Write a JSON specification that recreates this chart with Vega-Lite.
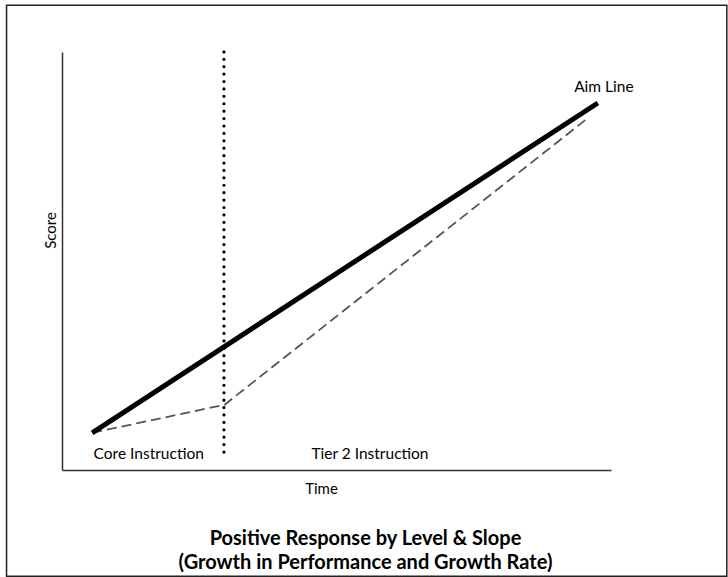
{
  "$schema": "https://vega.github.io/schema/vega-lite/v6.json",
  "autosize": {"type": "none"},
  "width": 549,
  "height": 418,
  "padding": {"left": 62, "top": 52, "right": 117, "bottom": 107},
  "background": "white",
  "config": {
    "view": {"stroke": null},
    "font": "Lato"
  },
  "title": {
    "text": ["Positive Response by Level & Slope", "(Growth in Performance and Growth Rate)"],
    "orient": "bottom",
    "anchor": "middle",
    "dx": 29,
    "offset": -48,
    "fontSize": 20,
    "lineHeight": 24.5,
    "fontWeight": "bold",
    "font": "Lato",
    "color": "black"
  },
  "datasets": {
    "aim": [
      {"time": 5.5, "score": 8.9, "series": "Aim Line"},
      {"time": 97.6, "score": 87.8, "series": "Aim Line"}
    ],
    "student": [
      {"time": 5.5, "score": 8.9, "series": "Student"},
      {"time": 29.6, "score": 15.6, "series": "Student"},
      {"time": 95.3, "score": 83.7, "series": "Student"}
    ],
    "phase": [
      {"time": 29.5, "from": 4.3, "to": 100.5}
    ],
    "labels": [
      {"time": 15.8, "score": 3.8, "label": "Core Instruction"},
      {"time": 56.1, "score": 3.8, "label": "Tier 2 Instruction"},
      {"time": 98.7, "score": 91.6, "label": "Aim Line"}
    ]
  },
  "layer": [
    {
      "data": {"values": [{}]},
      "mark": {"type": "rect", "fill": null, "stroke": "#222", "strokeWidth": 1.5},
      "encoding": {
        "x": {"datum": -10.1, "type": "quantitative", "scale": {"domain": [0, 100], "nice": false, "zero": false}},
        "x2": {"datum": 121.1},
        "y": {"datum": 111.2, "type": "quantitative", "scale": {"domain": [0, 100], "nice": false, "zero": false}},
        "y2": {"datum": -25.4}
      }
    },
    {
      "data": {"name": "phase"},
      "mark": {"type": "rule", "color": "black", "strokeWidth": 3.2, "strokeDash": [0.01, 7.4], "strokeCap": "round"},
      "encoding": {
        "x": {"field": "time", "type": "quantitative"},
        "y": {"field": "from", "type": "quantitative"},
        "y2": {"field": "to"}
      }
    },
    {
      "data": {"name": "student"},
      "mark": {"type": "line", "color": "#555", "strokeWidth": 1.8, "strokeDash": [10, 5]},
      "encoding": {
        "x": {"field": "time", "type": "quantitative"},
        "y": {"field": "score", "type": "quantitative"}
      }
    },
    {
      "data": {"name": "aim"},
      "mark": {"type": "line", "color": "black", "strokeWidth": 5},
      "encoding": {
        "x": {
          "field": "time", "type": "quantitative",
          "scale": {"domain": [0, 100], "nice": false, "zero": false},
          "axis": {
            "title": "Time", "labels": false, "ticks": false, "grid": false,
            "domainColor": "#333", "domainWidth": 1.5,
            "titleFont": "Lato", "titleFontSize": 15, "titleFontWeight": "normal", "titleColor": "black",
            "titleX": 259, "titleY": 18, "titleAlign": "center", "titleBaseline": "middle"
          }
        },
        "y": {
          "field": "score", "type": "quantitative",
          "scale": {"domain": [0, 100], "nice": false, "zero": false},
          "axis": {
            "title": "Score", "labels": false, "ticks": false, "grid": false,
            "domainColor": "#333", "domainWidth": 1.5,
            "titleFont": "Lato", "titleFontSize": 15, "titleFontWeight": "normal", "titleColor": "black",
            "titleX": -12, "titleY": 178, "titleAngle": -90, "titleAlign": "center", "titleBaseline": "middle"
          }
        }
      }
    },
    {
      "data": {"name": "labels"},
      "mark": {"type": "text", "font": "Lato", "fontSize": 15.5, "color": "black", "align": "center", "baseline": "middle"},
      "encoding": {
        "x": {"field": "time", "type": "quantitative"},
        "y": {"field": "score", "type": "quantitative"},
        "text": {"field": "label"}
      }
    }
  ]
}
